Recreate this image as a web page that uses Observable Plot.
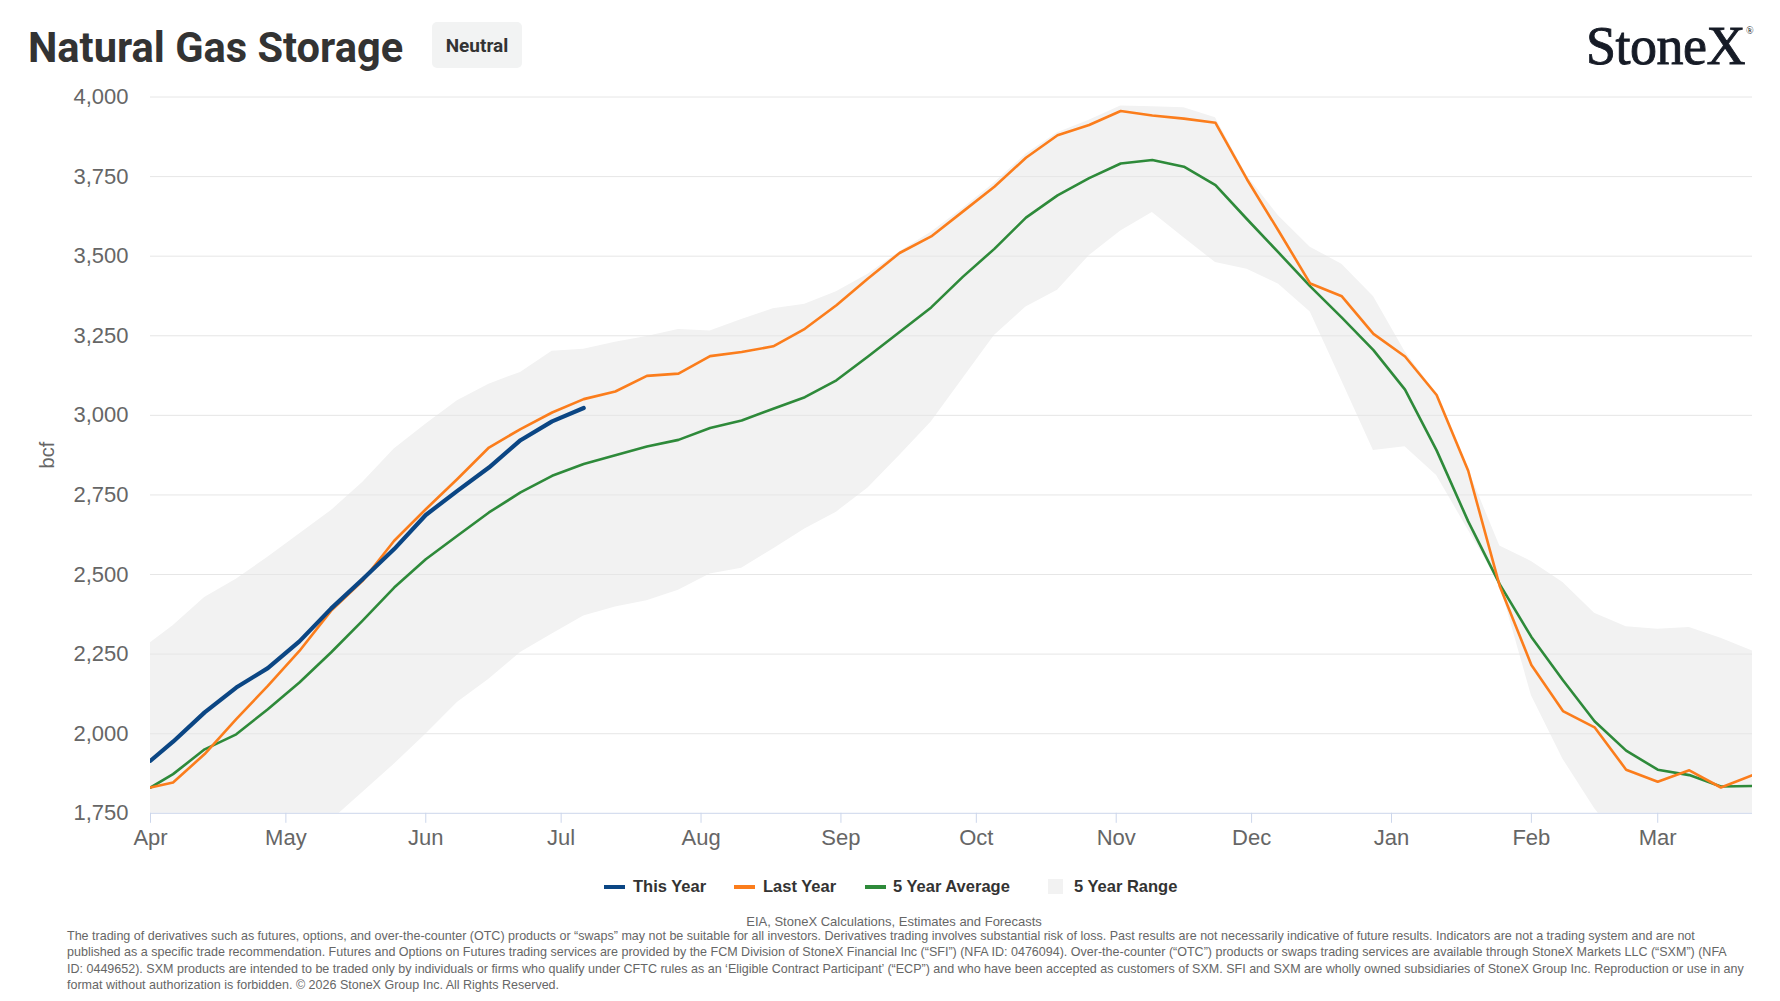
<!DOCTYPE html>
<html>
<head>
<meta charset="utf-8">
<script src="https://cdn.jsdelivr.net/npm/d3@7"></script>
<script src="https://cdn.jsdelivr.net/npm/@observablehq/plot@0.6"></script>
<style>
  html, body { margin: 0; padding: 0; background: #fff; }
  body { position: relative; width: 1780px; height: 1001px; overflow: hidden; font-family: "Liberation Sans", Arial, sans-serif; }
  .abs { position: absolute; white-space: nowrap; }
  #title { left: 28px; top: 27px; font: 700 41.6px/42px Roboto, "Liberation Sans", Arial, sans-serif; color: #333; }
  #badge { left: 432px; top: 22px; width: 90px; height: 46px; border-radius: 5px; background: #f2f3f3;
           display: flex; align-items: center; justify-content: center; font: 700 19px Roboto, "Liberation Sans", Arial, sans-serif; color: #333; }
  #logo { left: 1586px; top: 19px; font: 400 54px/54px "Liberation Serif", "DejaVu Serif", serif; color: #161b26; letter-spacing: -0.5px; -webkit-text-stroke: 0.9px #161b26; }
  #reg { left: 1746px; top: 26px; font: 400 10px/10px "Liberation Serif", serif; color: #161b26; }
  #chart { position: absolute; left: 0; top: 80px; }
  .leg { top: 876px; height: 21px; font: 700 16.5px/21px "Liberation Sans", Arial, sans-serif; color: #333; }
  .sw { position: absolute; }
  #source { left: 0; width: 1788px; text-align: center; top: 914px; font: 13px/16px "Liberation Sans", Arial, sans-serif; color: #666; }
  #disclaimer { left: 67px; top: 928px; font: 12.52px/16.3px "Liberation Sans", Arial, sans-serif; color: #666; }
</style>
</head>
<body>
<div id="title" class="abs">Natural Gas Storage</div>
<div id="badge" class="abs">Neutral</div>
<div id="logo" class="abs">StoneX</div>
<div id="reg" class="abs">®</div>
<div id="chart"></div>
<div id="legend"></div>
<div id="source" class="abs">EIA, StoneX Calculations, Estimates and Forecasts</div>
<div id="disclaimer" class="abs"></div>
<script>
// Weekly storage report dates across the injection/withdrawal season
const dates = [
  "2025-04-01", "2025-04-06", "2025-04-13", "2025-04-20", "2025-04-27",
  "2025-05-04", "2025-05-11", "2025-05-18", "2025-05-25",
  "2025-06-01", "2025-06-08", "2025-06-15", "2025-06-22", "2025-06-29",
  "2025-07-06", "2025-07-13", "2025-07-20", "2025-07-27",
  "2025-08-03", "2025-08-10", "2025-08-17", "2025-08-24", "2025-08-31",
  "2025-09-07", "2025-09-14", "2025-09-21", "2025-09-28",
  "2025-10-05", "2025-10-12", "2025-10-19", "2025-10-26",
  "2025-11-02", "2025-11-09", "2025-11-16", "2025-11-23", "2025-11-30",
  "2025-12-07", "2025-12-14", "2025-12-21", "2025-12-28",
  "2026-01-04", "2026-01-11", "2026-01-18", "2026-01-25",
  "2026-02-01", "2026-02-08", "2026-02-15", "2026-02-22",
  "2026-03-01", "2026-03-08", "2026-03-15", "2026-03-22"
];

// Working gas in storage, bcf
const thisYear = [1915, 1975, 2067, 2145, 2206, 2290, 2393, 2485, 2580, 2687, 2763, 2836, 2922, 2981, 3023];

const lastYear = [
  1831, 1847, 1936, 2046, 2150, 2260, 2386, 2480, 2606, 2705,
  2800, 2899, 2957, 3009, 3051, 3075, 3124, 3131, 3186, 3199,
  3217, 3272, 3346, 3430, 3510, 3562, 3640, 3718, 3809, 3880,
  3912, 3956, 3942, 3932, 3919, 3741, 3579, 3414, 3374, 3256,
  3185, 3064, 2826, 2463, 2216, 2071, 2020, 1887, 1849, 1885,
  1831, 1870
];

const fiveYearAvg = [
  1831, 1873, 1951, 1998, 2077, 2161, 2255, 2355, 2459, 2548,
  2622, 2695, 2758, 2810, 2847, 2875, 2902, 2923, 2960, 2984,
  3021, 3057, 3110, 3185, 3262, 3339, 3435, 3523, 3621, 3691,
  3745, 3791, 3802, 3781, 3723, 3616, 3511, 3405, 3307, 3205,
  3081, 2890, 2667, 2469, 2304, 2168, 2039, 1947, 1887, 1870,
  1834, 1836
];

const rangeHigh = [
  2286, 2339, 2428, 2485, 2554, 2627, 2700, 2789, 2894, 2972,
  3046, 3098, 3135, 3201, 3208, 3230, 3248, 3270, 3265, 3301,
  3335, 3349, 3388, 3443, 3514, 3575, 3650, 3730, 3820, 3888,
  3927, 3972, 3969, 3966, 3935, 3752, 3626, 3528, 3475, 3373,
  3200, 3068, 2830, 2590, 2541, 2475, 2378, 2336, 2328, 2334,
  2300, 2260
];

const rangeLow = [
  1382, 1415, 1450, 1490, 1567, 1643, 1727, 1815, 1904, 1998,
  2098, 2171, 2255, 2313, 2370, 2398, 2418, 2451, 2502, 2520,
  2580, 2643, 2696, 2772, 2874, 2979, 3115, 3251, 3340, 3393,
  3501, 3579, 3637, 3558, 3480, 3459, 3412, 3325, 3108, 2890,
  2901, 2811, 2640, 2470, 2120, 1920, 1765, 1640, 1519, 1401,
  1390, 1400
];

const yTicks = [1750, 2000, 2250, 2500, 2750, 3000, 3250, 3500, 3750, 4000];
const monthTicks = [
  "2025-04-01", "2025-05-01", "2025-06-01", "2025-07-01", "2025-08-01", "2025-09-01",
  "2025-10-01", "2025-11-01", "2025-12-01", "2026-01-01", "2026-02-01", "2026-03-01"
];
const xDomain = ["2025-04-01", "2026-03-22"];

const series = [
  {name: "This Year", color: "#0b4684"},
  {name: "Last Year", color: "#fb7d1c"},
  {name: "5 Year Average", color: "#2e8a3a"},
  {name: "5 Year Range", color: "#f2f2f2"}
];

const disclaimerLines = [
  "The trading of derivatives such as futures, options, and over-the-counter (OTC) products or “swaps” may not be suitable for all investors. Derivatives trading involves substantial risk of loss. Past results are not necessarily indicative of future results. Indicators are not a trading system and are not",
  "published as a specific trade recommendation. Futures and Options on Futures trading services are provided by the FCM Division of StoneX Financial Inc (“SFI”) (NFA ID: 0476094). Over-the-counter (“OTC”) products or swaps trading services are available through StoneX Markets LLC (“SXM”) (NFA",
  "ID: 0449652). SXM products are intended to be traded only by individuals or firms who qualify under CFTC rules as an ‘Eligible Contract Participant’ (“ECP”) and who have been accepted as customers of SXM. SFI and SXM are wholly owned subsidiaries of StoneX Group Inc. Reproduction or use in any",
  "format without authorization is forbidden. © 2026 StoneX Group Inc. All Rights Reserved."
];

const parse = d3.utcParse("%Y-%m-%d");
const rows = dates.map((d, i) => ({
  date: parse(d),
  last: lastYear[i],
  avg: fiveYearAvg[i],
  low: rangeLow[i],
  high: rangeHigh[i]
}));
const current = thisYear.map((v, i) => ({date: parse(dates[i]), value: v}));

const chart = Plot.plot({
  width: 1780,
  height: 785,
  marginLeft: 150,
  marginRight: 28,
  marginTop: 16.5,
  marginBottom: 52.2,
  style: {fontFamily: "'Liberation Sans', Arial, sans-serif", fontSize: "22px", color: "#666", background: "#fff", overflow: "visible"},
  x: {type: "utc", domain: xDomain.map(parse), axis: null},
  y: {domain: [yTicks[0], yTicks[yTicks.length - 1]], axis: null},
  marks: [
    Plot.areaY(rows, {x: "date", y1: "low", y2: "high", fill: series[3].color, clip: true}),
    Plot.gridY(yTicks.slice(1), {stroke: "#e6e6e6", strokeOpacity: 1, strokeWidth: 1}),
    Plot.ruleY([yTicks[0]], {stroke: "#ccd6eb", strokeWidth: 1}),
    Plot.axisX(monthTicks.map(parse), {tickSize: 10, tickPadding: 6, stroke: "#ccd6eb", tickFormat: d3.utcFormat("%b"), label: null, fontSize: 22}),
    Plot.axisY(yTicks, {tickSize: 0, tickPadding: 22, tickFormat: d3.format(","), label: null, fontSize: 22}),
    Plot.text(["bcf"], {frameAnchor: "left", textAnchor: "middle", rotate: -90, dx: -103, fontSize: 20, fill: "#666"}),
    Plot.line(rows, {x: "date", y: "avg", stroke: series[2].color, strokeWidth: 2.6, clip: true}),
    Plot.line(rows, {x: "date", y: "last", stroke: series[1].color, strokeWidth: 2.6, clip: true}),
    Plot.line(current, {x: "date", y: "value", stroke: series[0].color, strokeWidth: 4.2, strokeLinecap: "round", strokeLinejoin: "round", clip: true})
  ]
});
document.getElementById("chart").appendChild(chart);

// Legend
const legend = document.getElementById("legend");
const legendPos = [
  {sw: 604, text: 633},
  {sw: 734, text: 763},
  {sw: 865, text: 893},
  {sw: 1048, text: 1074}
];
series.forEach((s, i) => {
  const p = legendPos[i];
  const sw = document.createElement("div");
  sw.className = "sw";
  if (i < 3) {
    Object.assign(sw.style, {left: p.sw + "px", top: "885px", width: "21px", height: "3.5px", background: s.color});
  } else {
    Object.assign(sw.style, {left: p.sw + "px", top: "879px", width: "15px", height: "15px", background: s.color});
  }
  legend.appendChild(sw);
  const t = document.createElement("div");
  t.className = "abs leg";
  t.style.left = p.text + "px";
  t.textContent = s.name;
  legend.appendChild(t);
});

const disc = document.getElementById("disclaimer");
disclaimerLines.forEach(line => {
  const div = document.createElement("div");
  div.textContent = line;
  disc.appendChild(div);
});
</script>
</body>
</html>
